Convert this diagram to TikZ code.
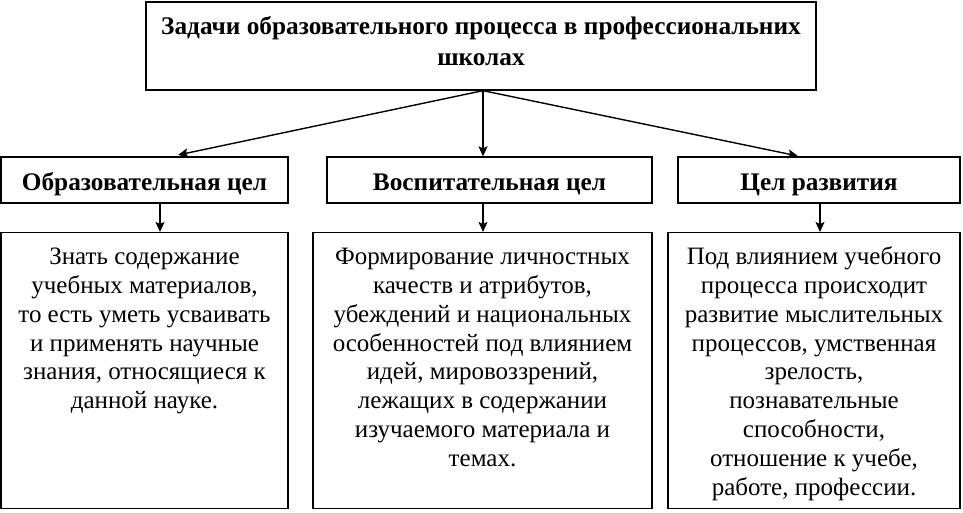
\documentclass[tikz,border=0pt]{standalone}
\usepackage{fontspec}
\setmainfont{Liberation Serif}
\usepackage{tikz}
\usetikzlibrary{arrows.meta}

\newcommand{\desctext}[2]{\parbox[t][262pt][t]{#1}{\centering\rule{0pt}{25pt}#2}}

\begin{document}
\begin{tikzpicture}[>={Stealth[length=10pt, width=9pt, inset=2pt]}, x=1pt, y=-1pt,
	goalbox/.style={draw, line width=1.3pt, inner sep=0pt, font=\fontsize{25.3}{31}\selectfont\bfseries, align=center},
	descbox/.style={draw, line width=1.3pt, anchor=north, inner sep=7pt, font=\fontsize{25}{28.8}\selectfont},
	link/.style={line width=1.4pt, ->}]
	\useasboundingbox (0, 0) rectangle (963, 513);

	\node[goalbox, minimum width=670pt, minimum height=88pt] (tasks) at (481, 46) {Задачи образовательного процесса в профессиональних\\школах\rule[-11pt]{0pt}{11pt}};

	\node[goalbox, text height=22pt, text depth=2pt, minimum width=287pt, minimum height=46pt] (edu) at (144.5, 180) {Образовательная цел};
	\node[goalbox, text height=22pt, text depth=2pt, minimum width=325pt, minimum height=46pt] (upbr) at (489.5, 180) {Воспитательная цел};
	\node[goalbox, text height=22pt, text depth=2pt, minimum width=282pt, minimum height=46pt] (devel) at (819, 180) {Цел развития};

	\node[descbox, minimum width=287pt] (eduText) at (144.5, 232) {\desctext{273pt}{Знать содержание\\учебных материалов,\\то есть уметь усваивать\\и применять научные\\знания, относящиеся к\\данной науке.}};
	\node[descbox, minimum width=339pt] (upbrText) at (482.5, 232) {\desctext{325pt}{Формирование личностных\\качеств и атрибутов,\\убеждений и национальных\\особенностей под влиянием\\идей, мировоззрений,\\лежащих в содержании\\изучаемого материала и\\темах.}};
	\node[descbox, minimum width=292pt] (develText) at (814, 232) {\desctext{278pt}{Под влиянием учебного\\процесса происходит\\развитие мыслительных\\процессов, умственная\\зрелость,\\познавательные\\способности,\\отношение к учебе,\\работе, профессии.}};

	\coordinate (eduTip) at (178, 155);
	\coordinate (develTip) at (798, 156);

	\draw[link] ([xshift=2pt]tasks.south) -- (eduTip);
	\draw[link] ([xshift=2pt]tasks.south) -- ([xshift=2pt]tasks.south |- upbr.north);
	\draw[link] ([xshift=2pt]tasks.south) -- (develTip);

	\draw[link] ([xshift=15.5pt]edu.south) -- ([xshift=15.5pt]eduText.north);
	\draw[link] ([xshift=-6.5pt]upbr.south) -- ([xshift=-6.5pt]upbr.south |- upbrText.north);
	\draw[link] ([xshift=1pt]devel.south) -- ([xshift=6pt]develText.north);
\end{tikzpicture}
\end{document}
